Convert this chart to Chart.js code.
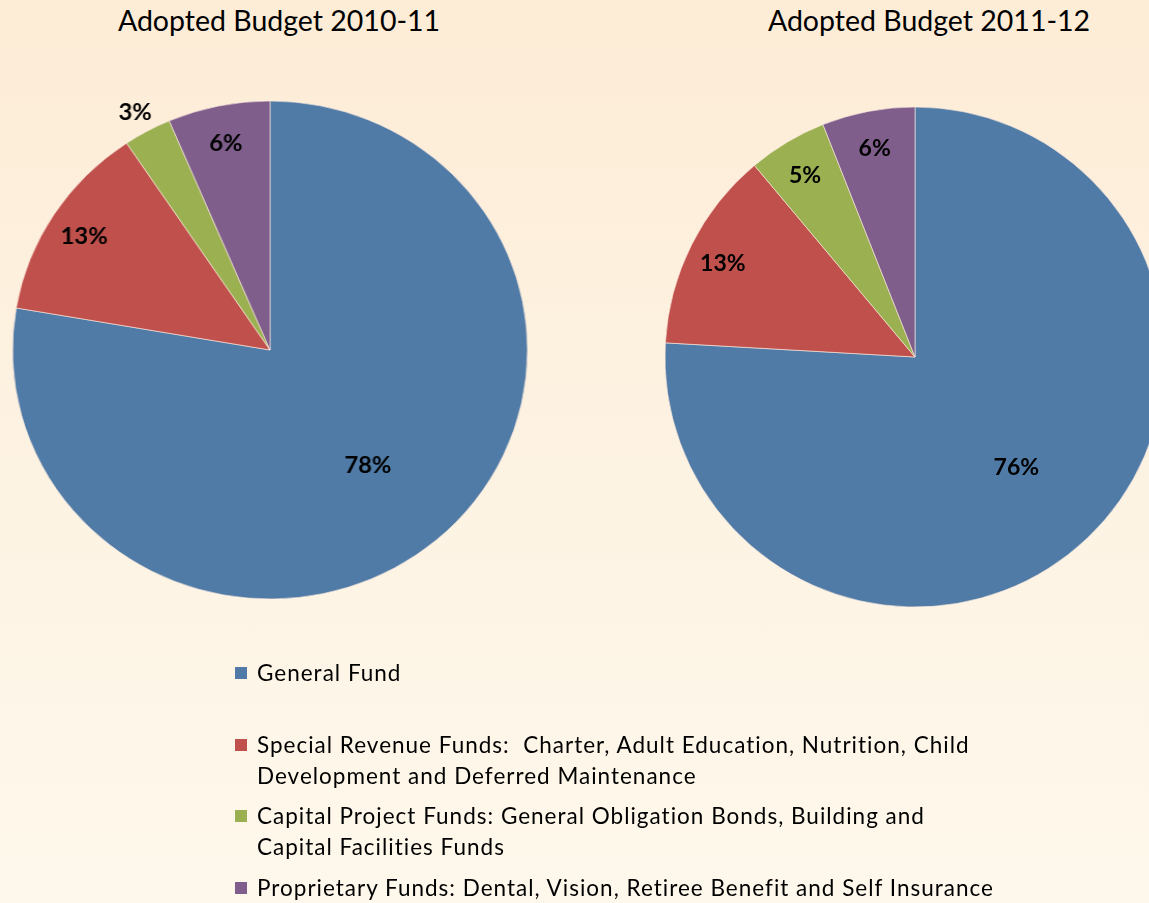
<!DOCTYPE html>
<html>
<head>
<meta charset="utf-8">
<script src="https://cdn.jsdelivr.net/npm/chart.js@4.4.0/dist/chart.umd.min.js"></script>
<style>
  html, body { margin: 0; padding: 0; }
  body {
    width: 1149px;
    height: 903px;
    overflow: hidden;
    position: relative;
    background: linear-gradient(to bottom, #fdecd6 0%, #fdf2e1 45%, #fef8ec 100%);
    font-family: Lato, 'Noto Sans', sans-serif;
  }
  .title {
    position: absolute;
    top: 3px;
    font-size: 28.5px;
    color: #000;
    white-space: nowrap;
    transform: translateX(-50%);
  }
  canvas { position: absolute; }
  #legend {
    position: absolute;
    left: 235px;
    top: 657px;
    font-size: 22.5px;
    letter-spacing: 1px;
    color: #000;
  }
  .item {
    position: relative;
    height: 71.5px;
    padding-left: 22px;
    line-height: 31px;
    white-space: pre;
  }
  .swatch {
    position: absolute;
    left: 0;
    top: 10px;
    width: 12px;
    height: 12px;
  }
</style>
</head>
<body>
<div class="title" style="left: 279px;">Adopted Budget 2010-11</div>
<div class="title" style="left: 929px;">Adopted Budget 2011-12</div>
<canvas id="pie2010"></canvas>
<canvas id="pie2011"></canvas>
<div id="legend"></div>

<script>
// fund categories, in the order the slices go clockwise from 12 o'clock
const fundNames = ['General Fund', 'Special Revenue Funds', 'Capital Project Funds', 'Proprietary Funds'];
const budget2010 = [77.7, 12.9, 3.0, 6.4];
const budget2011 = [75.9, 13.0, 5.1, 6.0];
const fundColors = ['#4f7ba6', '#c0504b', '#9bb151', '#7f5e8b'];

// legend text, as it wraps in the original
const legendText = [
  'General Fund',
  'Special Revenue Funds:  Charter, Adult Education, Nutrition, Child\nDevelopment and Deferred Maintenance',
  'Capital Project Funds: General Obligation Bonds, Building and\nCapital Facilities Funds',
  'Proprietary Funds: Dental, Vision, Retiree Benefit and Self Insurance'
];

/**
 * draws the percentage of every slice, big slices nearer the middle, tiny ones outside
 */
const sliceLabels = {
  id: 'sliceLabels',
  afterDatasetsDraw (chart) {
    const ctx = chart.ctx;
    const meta = chart.getDatasetMeta(0);
    const values = chart.data.datasets[0].data;
    const total = values.reduce((a, b) => a + b, 0);
    ctx.save();
    ctx.font = 'bold 23px Lato';
    ctx.fillStyle = '#000';
    ctx.textAlign = 'center';
    ctx.textBaseline = 'middle';
    meta.data.forEach((arc, i) => {
      const p = arc.getProps(['x', 'y', 'startAngle', 'endAngle', 'outerRadius'], true);
      const share = values[i] / total;
      let k = 0.86;
      if (share > 0.5) k = 0.59;
      else if (share < 0.04) k = 1.1;
      const mid = (p.startAngle + p.endAngle) / 2;
      const x = p.x + Math.cos(mid) * p.outerRadius * k;
      const y = p.y + Math.sin(mid) * p.outerRadius * k + 3;
      ctx.fillText(Math.round(share * 100) + '%', x, y);
    });
    ctx.restore();
  }
};

/**
 * puts a canvas so that its middle is the centre of the pie, then draws the pie there.
 * stretch widens it a little, the first pie in the original is a bit oval
 */
function makePie (id, values, cx, cy, r, stretch) {
  const canvas = document.getElementById(id);
  const w = 600;
  const h = 620;
  canvas.width = w;
  canvas.height = h;
  canvas.style.left = (cx - w / 2) + 'px';
  canvas.style.top = (cy - h / 2) + 'px';
  canvas.style.transform = 'scaleX(' + stretch + ')';
  return new Chart(canvas, {
    type: 'pie',
    data: {
      labels: fundNames,
      datasets: [{
        data: values,
        backgroundColor: fundColors,
        borderColor: 'rgba(255, 235, 225, 0.6)',
        borderWidth: 1,
        hoverOffset: 0
      }]
    },
    options: {
      responsive: false,
      animation: false,
      radius: r,
      layout: { padding: 0 },
      plugins: {
        legend: { display: false },
        tooltip: { enabled: false }
      }
    },
    plugins: [sliceLabels]
  });
}

makePie('pie2010', budget2010, 269.5, 350, 249, 1.034);
makePie('pie2011', budget2011, 914.5, 357, 250, 1);

// legend built by hand since the entries wrap over two lines
const legend = document.getElementById('legend');
legendText.forEach((text, i) => {
  const item = document.createElement('div');
  item.className = 'item';
  const swatch = document.createElement('span');
  swatch.className = 'swatch';
  swatch.style.background = fundColors[i];
  item.appendChild(swatch);
  item.appendChild(document.createTextNode(text));
  legend.appendChild(item);
});
</script>
</body>
</html>
